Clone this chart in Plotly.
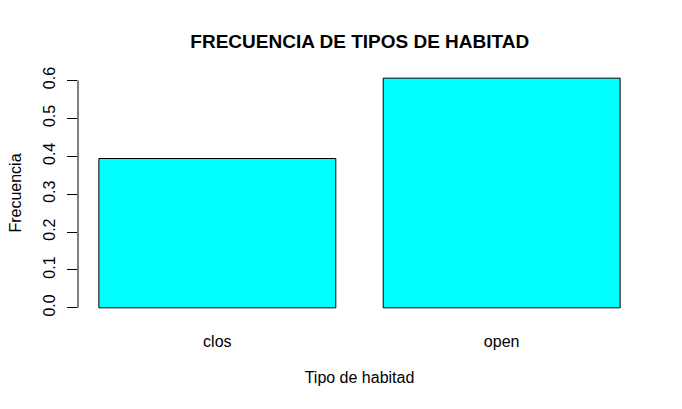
import plotly.graph_objects as go

categories = ["clos", "open"]
values = [0.394, 0.606]
bar_centers = [0.7, 1.9]
y_ticks = [0.0, 0.1, 0.2, 0.3, 0.4, 0.5, 0.6]
y_ticktext = ["0.0", "0.1", "0.2", "0.3", "0.4", "0.5", "0.6"]

FONT = "Liberation Sans, Arial, sans-serif"

fig = go.Figure()
fig.add_trace(go.Bar(
    x=bar_centers, y=values, width=1.0,
    marker=dict(color="#00FFFF", line=dict(color="black", width=1)),
    showlegend=False, hoverinfo="x+y",
))

fig.update_layout(
    width=682, height=409,
    margin=dict(l=78.4, r=40.8, t=69.2, b=92.1),
    paper_bgcolor="white", plot_bgcolor="white",
    font=dict(family=FONT, size=16, color="black"),
    title=dict(text="<b>FRECUENCIA DE TIPOS DE HABITAD</b>",
               x=(78.4 + 641.2) / 2 / 682, xanchor="center",
               y=1 - 41 / 409, yanchor="middle",
               font=dict(family=FONT, size=19, color="black")),
    xaxis=dict(range=[0.112, 2.488], tickvals=bar_centers, ticktext=categories,
               showline=False, showgrid=False, zeroline=False, ticks="",
               tickfont=dict(size=16), ticklabelstandoff=13,
               title=dict(text="Tipo de habitad", font=dict(size=16), standoff=22)),
    yaxis=dict(range=[-0.0242, 0.6302], tickvals=y_ticks, ticktext=y_ticktext,
               showline=False, showgrid=False, zeroline=False,
               ticks="outside", ticklen=10, tickwidth=1, tickcolor="black",
               tickangle=-90, tickfont=dict(size=16), ticklabelstandoff=6,
               title=dict(text="Frecuencia", font=dict(size=16), standoff=14)),
    shapes=[dict(type="line", xref="paper", yref="y", x0=0, x1=0, y0=0, y1=0.6,
                 line=dict(color="black", width=1))],
)

fig.write_html("out.html")
